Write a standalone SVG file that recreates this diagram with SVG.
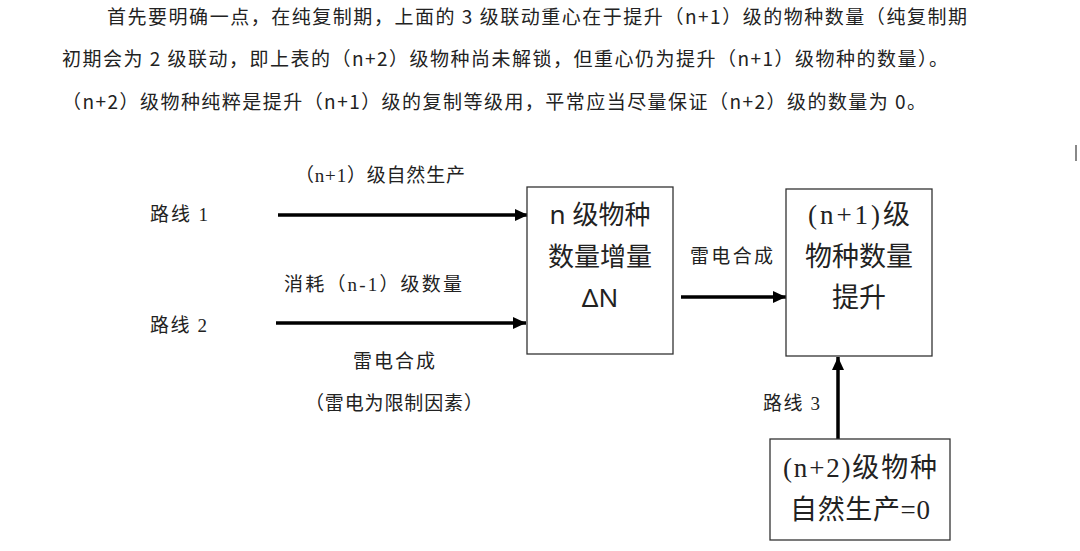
<svg xmlns="http://www.w3.org/2000/svg" width="1080" height="551" viewBox="0 0 1080 551">
<defs>
<style>
.para{font-family:"Noto Sans CJK SC","Noto Sans",sans-serif;font-size:19px;fill:#222}
.lbl{font-family:"Liberation Serif","Noto Sans CJK SC",serif;font-size:19px;fill:#222}
.big{font-family:"Liberation Serif","Noto Sans CJK SC",serif;font-size:27px;fill:#222;text-anchor:middle}
.bigs{font-family:"Noto Sans","Noto Sans CJK SC",sans-serif;font-size:26px;fill:#222;text-anchor:middle}
.box{fill:#fff;stroke:#333;stroke-width:1.3}
.arr{stroke:#000;stroke-width:3.5;fill:none;marker-end:url(#ah)}
</style>
<marker id="ah" markerUnits="userSpaceOnUse" markerWidth="14" markerHeight="12" refX="13" refY="6" orient="auto">
<path d="M0,0 L13,6 L0,12 Z" fill="#000"/>
</marker>
</defs>
<rect width="1080" height="551" fill="#fff"/>
<rect x="1075" y="145" width="2" height="16" fill="#888"/>
<g id="paragraph">
<text class="para" x="107" y="24" textLength="860" lengthAdjust="spacing">首先要明确一点，在纯复制期，上面的 3 级联动重心在于提升（n+1）级的物种数量（纯复制期</text>
<text class="para" x="62" y="66" textLength="886" lengthAdjust="spacing">初期会为 2 级联动，即上表的（n+2）级物种尚未解锁，但重心仍为提升（n+1）级物种的数量）。</text>
<text class="para" x="62" y="109" textLength="864" lengthAdjust="spacing">（n+2）级物种纯粹是提升（n+1）级的复制等级用，平常应当尽量保证（n+2）级的数量为 0。</text>
</g>
<g id="connectors">
<line class="arr" x1="278" y1="215" x2="528" y2="215"/>
<line class="arr" x1="276" y1="323" x2="526" y2="323"/>
<line class="arr" x1="681" y1="297" x2="786" y2="297"/>
<line class="arr" x1="838" y1="440" x2="838" y2="357"/>
</g>
<g id="labels">
<text class="lbl" x="295" y="182" textLength="170" lengthAdjust="spacing">（n+1）级自然生产</text>
<text class="lbl" x="150" y="221" textLength="58" lengthAdjust="spacing">路线 1</text>
<text class="lbl" x="284" y="291" textLength="178" lengthAdjust="spacing">消耗（n-1）级数量</text>
<text class="lbl" x="150" y="332" textLength="57" lengthAdjust="spacing">路线 2</text>
<text class="lbl" x="353" y="368" textLength="82" lengthAdjust="spacing">雷电合成</text>
<text class="lbl" x="305" y="410" textLength="178" lengthAdjust="spacing">（雷电为限制因素）</text>
<text class="lbl" x="690" y="263" textLength="83" lengthAdjust="spacing">雷电合成</text>
<text class="lbl" x="763" y="410" textLength="57" lengthAdjust="spacing">路线 3</text>
</g>
<g id="node-n">
<rect class="box" x="527" y="187" width="146" height="167"/>
<text class="bigs" x="600" y="224">n 级物种</text>
<text class="bigs" x="600" y="266">数量增量</text>
<text class="bigs" x="600" y="307">ΔN</text>
</g>
<g id="node-n1">
<rect class="box" x="786" y="189" width="146" height="167"/>
<text class="big" x="859" y="224" textLength="102" lengthAdjust="spacing">(n+1)级</text>
<text class="big" x="859" y="266">物种数量</text>
<text class="big" x="859" y="307">提升</text>
</g>
<g id="node-n2">
<rect class="box" x="770" y="439" width="180" height="101"/>
<text class="big" x="860" y="477" textLength="154" lengthAdjust="spacing">(n+2)级物种</text>
<text class="big" x="860" y="519" textLength="140" lengthAdjust="spacing">自然生产=0</text>
</g>
</svg>
